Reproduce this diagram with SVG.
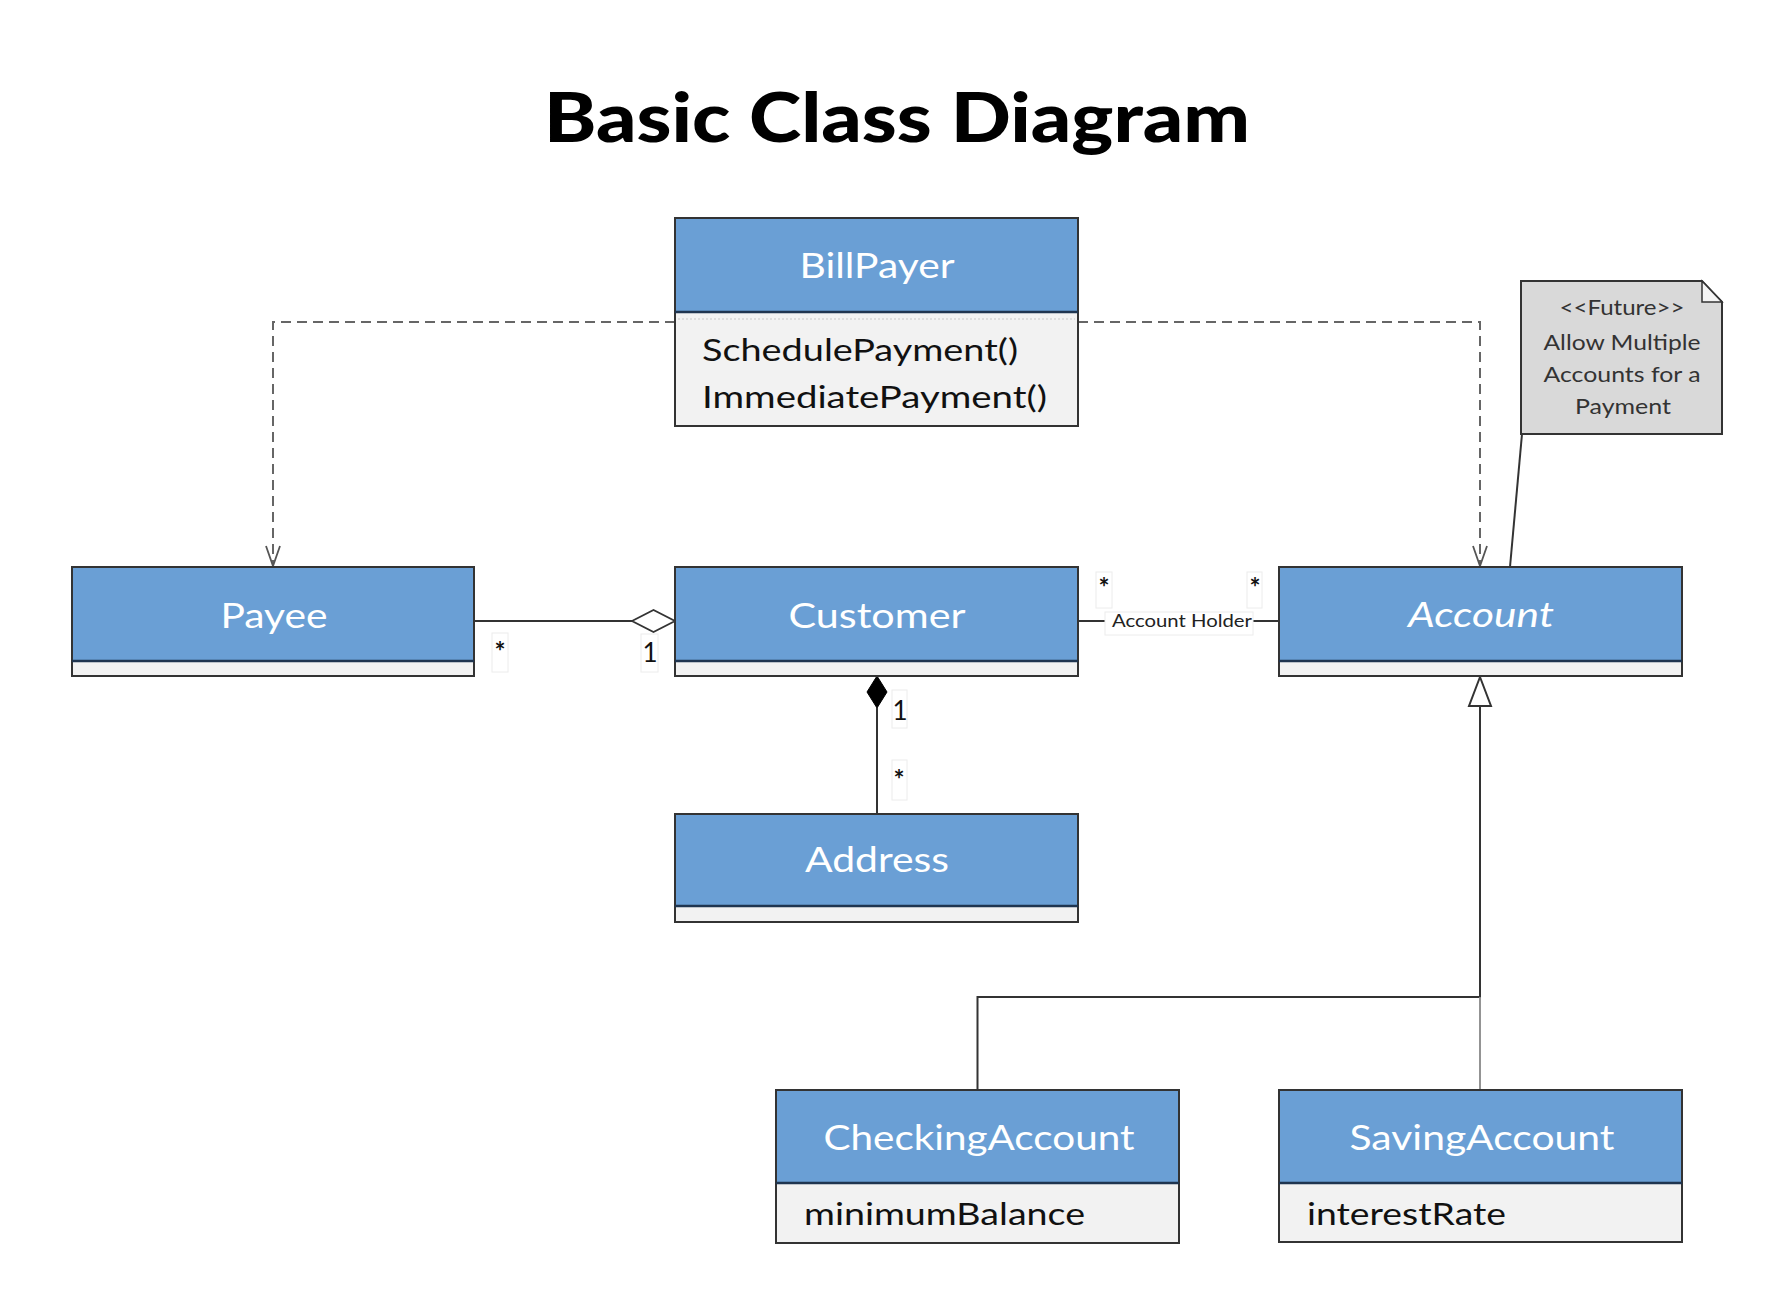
<svg xmlns="http://www.w3.org/2000/svg" width="1790" height="1292" viewBox="0 0 1790 1292">
<defs>
<style>
.hdr{fill:#6a9fd5;stroke:#333;stroke-width:2}
.cmp{fill:#f2f2f2;stroke:#333;stroke-width:2}
.div{stroke:#1f3550;stroke-width:2.5}
.name{font-family:Lato,"Liberation Sans",sans-serif;font-size:34px;fill:#ffffff;text-anchor:middle}
.attr{font-family:Lato,"Liberation Sans",sans-serif;font-size:30px;fill:#111}
.note{font-family:Lato,"Liberation Sans",sans-serif;font-size:21px;fill:#333;text-anchor:middle}
.mult{font-family:Lato,"Liberation Sans",sans-serif;fill:#111;text-anchor:middle}
.star{font-family:Lato,"Liberation Sans",sans-serif;fill:#111;text-anchor:middle;font-size:26px;font-weight:bold}
.conn{fill:none;stroke:#333;stroke-width:2}
.dep{fill:none;stroke:#666;stroke-width:2;stroke-dasharray:10 6}
.lbox{fill:#ffffff;stroke:#ececec;stroke-width:1}
</style>
<marker id="open" markerUnits="userSpaceOnUse" viewBox="0 0 22 16" refX="21" refY="8" markerWidth="22" markerHeight="16" orient="auto">
<path d="M1,1 L21,8 L1,15" fill="none" stroke="#555" stroke-width="1.8"/>
</marker>
</defs>
<rect width="1790" height="1292" fill="#ffffff"/>
<text x="897" y="142" font-family="Lato,'Liberation Sans',sans-serif" font-weight="900" font-size="68" text-anchor="middle" fill="#000" textLength="706" lengthAdjust="spacingAndGlyphs">Basic Class Diagram</text>

<g id="connectors">
<path class="dep" d="M675,322 H273 V566" marker-end="url(#open)"/>
<path class="dep" d="M1078,322 H1480 V566" marker-end="url(#open)"/>
<path class="conn" d="M474,621 H632"/>
<polygon points="632,621 653.5,610 675,621 653.5,632" fill="#ffffff" stroke="#333" stroke-width="1.8"/>
<path class="conn" d="M877,708 V814"/>
<polygon points="877,676 887,692 877,708 867,692" fill="#000" stroke="#000" stroke-width="1"/>
<path class="conn" d="M1078,621 H1279"/>
<path class="conn" d="M977.5,1090 V997 H1480 V706"/>
<path d="M1480,1090 V997" fill="none" stroke="#888" stroke-width="1.8"/>
<polygon points="1480,677 1491,706 1469,706" fill="#ffffff" stroke="#333" stroke-width="2"/>
<path class="conn" d="M1510,567 L1522,434"/>
<rect class="lbox" x="492" y="633" width="16" height="39"/>
<text class="star" x="500" y="661">*</text>
<rect class="lbox" x="641" y="634" width="17" height="38"/>
<text class="mult" x="650" y="662" font-size="26">1</text>
<rect class="lbox" x="892" y="690" width="15" height="38"/>
<text class="mult" x="900" y="720" font-size="26">1</text>
<rect class="lbox" x="892" y="760" width="15" height="40"/>
<text class="star" x="899" y="789">*</text>
<rect class="lbox" x="1096" y="572" width="16" height="36"/>
<text class="star" x="1104" y="597">*</text>
<rect class="lbox" x="1247" y="572" width="15" height="36"/>
<text class="star" x="1255" y="597">*</text>
<rect class="lbox" x="1105" y="612" width="148" height="23"/>
<text x="1182" y="627" font-family="Lato,'Liberation Sans',sans-serif" font-size="18" fill="#222" text-anchor="middle" textLength="140" lengthAdjust="spacingAndGlyphs">Account Holder</text>
</g>

<g id="BillPayer">
<rect class="hdr" x="675" y="218" width="403" height="94"/>
<rect class="cmp" x="675" y="312" width="403" height="114"/>
<line class="div" x1="675" y1="312" x2="1078" y2="312"/>
<line x1="678" y1="319" x2="1075" y2="319" stroke="#c8c8c8" stroke-width="1" stroke-dasharray="2 2"/>
<text class="name" x="877" y="278" textLength="155" lengthAdjust="spacingAndGlyphs">BillPayer</text>
<text class="attr" x="702" y="361" textLength="316" lengthAdjust="spacingAndGlyphs">SchedulePayment()</text>
<text class="attr" x="702" y="408" textLength="345" lengthAdjust="spacingAndGlyphs">ImmediatePayment()</text>
</g>

<g id="Payee">
<rect class="hdr" x="72" y="567" width="402" height="94"/>
<rect class="cmp" x="72" y="661" width="402" height="15"/>
<line class="div" x1="72" y1="661" x2="474" y2="661"/>
<text class="name" x="274" y="628" textLength="107" lengthAdjust="spacingAndGlyphs">Payee</text>
</g>

<g id="Customer">
<rect class="hdr" x="675" y="567" width="403" height="94"/>
<rect class="cmp" x="675" y="661" width="403" height="15"/>
<line class="div" x1="675" y1="661" x2="1078" y2="661"/>
<text class="name" x="877" y="628" textLength="177" lengthAdjust="spacingAndGlyphs">Customer</text>
</g>

<g id="Account">
<rect class="hdr" x="1279" y="567" width="403" height="94"/>
<rect class="cmp" x="1279" y="661" width="403" height="15"/>
<line class="div" x1="1279" y1="661" x2="1682" y2="661"/>
<text class="name" x="1481" y="627" font-style="italic" textLength="146" lengthAdjust="spacingAndGlyphs">Account</text>
</g>

<g id="Address">
<rect class="hdr" x="675" y="814" width="403" height="92"/>
<rect class="cmp" x="675" y="906" width="403" height="16"/>
<line class="div" x1="675" y1="906" x2="1078" y2="906"/>
<text class="name" x="877" y="872" textLength="144" lengthAdjust="spacingAndGlyphs">Address</text>
</g>

<g id="CheckingAccount">
<rect class="hdr" x="776" y="1090" width="403" height="93"/>
<rect class="cmp" x="776" y="1183" width="403" height="60"/>
<line class="div" x1="776" y1="1183" x2="1179" y2="1183"/>
<text class="name" x="979" y="1150" textLength="311" lengthAdjust="spacingAndGlyphs">CheckingAccount</text>
<text class="attr" x="804" y="1225" textLength="281" lengthAdjust="spacingAndGlyphs">minimumBalance</text>
</g>

<g id="SavingAccount">
<rect class="hdr" x="1279" y="1090" width="403" height="93"/>
<rect class="cmp" x="1279" y="1183" width="403" height="59"/>
<line class="div" x1="1279" y1="1183" x2="1682" y2="1183"/>
<text class="name" x="1482" y="1150" textLength="265" lengthAdjust="spacingAndGlyphs">SavingAccount</text>
<text class="attr" x="1307" y="1225" textLength="199" lengthAdjust="spacingAndGlyphs">interestRate</text>
</g>

<g id="Note">
<path d="M1521,281 H1702 L1722,302 V434 H1521 Z" fill="#d9d9d9" stroke="#333" stroke-width="2"/>
<path d="M1702,281 V302 H1722 Z" fill="#f4f4f4" stroke="#333" stroke-width="1.5"/>
<text class="note" x="1622" y="315" textLength="125" lengthAdjust="spacingAndGlyphs">&lt;&lt;Future&gt;&gt;</text>
<text class="note" x="1622" y="350" textLength="157" lengthAdjust="spacingAndGlyphs">Allow Multiple</text>
<text class="note" x="1622" y="382" textLength="157" lengthAdjust="spacingAndGlyphs">Accounts for a</text>
<text class="note" x="1623" y="414" textLength="96" lengthAdjust="spacingAndGlyphs">Payment</text>
</g>
</svg>
